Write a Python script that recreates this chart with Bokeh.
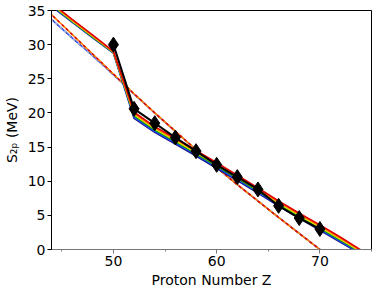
from bokeh.plotting import figure
from bokeh.models import Range1d, SingleIntervalTicker
from bokeh.embed import file_html
from bokeh.resources import INLINE

# ---- data ----
Z_model = [44, 46, 48, 50, 52, 54, 56, 58, 60, 62, 64, 66, 68, 70, 72, 74]
S_red    = [36.1, 33.7, 31.4, 29.00, 20.10, 18.00, 16.30, 14.50, 12.70, 10.90, 9.00, 7.10, 5.30, 3.60, 1.80, -0.10]
S_orange = [36.0, 33.6, 31.3, 28.95, 19.92, 17.83, 16.13, 14.34, 12.54, 10.74, 8.85, 6.95, 5.15, 3.44, 1.65, -0.22]
S_yellow = [35.9, 33.5, 31.2, 28.90, 19.74, 17.66, 15.96, 14.18, 12.38, 10.58, 8.70, 6.80, 5.00, 3.28, 1.50, -0.34]
S_green  = [35.8, 33.4, 31.1, 28.85, 19.56, 17.49, 15.79, 14.02, 12.22, 10.42, 8.55, 6.65, 4.85, 3.12, 1.35, -0.46]
S_blue   = [35.7, 33.35, 31.05, 28.80, 19.38, 17.32, 15.62, 13.86, 12.06, 10.26, 8.40, 6.50, 4.70, 2.96, 1.20, -0.58]
S_navy   = [35.6, 33.3, 31.0, 28.75, 19.20, 17.15, 15.45, 13.70, 11.90, 10.10, 8.25, 6.35, 4.55, 2.80, 1.05, -0.70]

Z_dash = [44, 46, 48, 50, 52, 54, 56, 58, 60, 62, 64, 66, 68, 70]
D_upper = [34.4, 31.5, 28.6, 25.7, 22.8, 20.0, 17.3, 14.6, 12.0, 9.5, 7.1, 4.7, 2.35, 0.0]
D_lower = [33.7, 31.0, 28.35, 25.6, 22.75, 20.0, 17.3, 14.6, 12.0, 9.5, 7.1, 4.7, 2.35, 0.0]

Z_exp = [50, 52, 54, 56, 58, 60, 62, 64, 66, 68, 70]
S_exp = [30.0, 20.6, 18.5, 16.4, 14.4, 12.4, 10.6, 8.8, 6.4, 4.6, 3.0]

y_ticks = [0, 5, 10, 15, 20, 25, 30, 35]

FONT = "DejaVu Sans"

p = figure(width=373, height=293, output_backend="svg", toolbar_location=None,
           x_range=Range1d(44, 75), y_range=Range1d(0, 35),
           min_border_left=50, min_border_right=2, min_border_top=10, min_border_bottom=44)
p.xgrid.visible = False
p.ygrid.visible = False
p.outline_line_color = "black"
p.outline_line_width = 1
p.background_fill_color = "white"
p.border_fill_color = "white"

# dashed models
dash_specs = [(D_lower, "#1a1a8c", 0), (D_lower, "#2f4fff", 3), (D_lower, "#a0b4e0", 1),
              (D_upper, "#ffd000", 3), (D_upper, "#ff8000", 1), (D_upper, "#e00000", 4)]
for ys, c, off in dash_specs:
    p.line(Z_dash, ys, line_color=c, line_width=1.6, line_dash="3 3", line_dash_offset=off)

# solid models
solid_specs = [(S_navy, "#1a1a8c"), (S_blue, "#1f3fff"), (S_green, "#00a000"),
               (S_yellow, "#e6e600"), (S_orange, "#ff8000"), (S_red, "#e00000")]
for ys, c in solid_specs:
    p.line(Z_model, ys, line_color=c, line_width=1.6)

# experiment
p.line(Z_exp, S_exp, line_color="black", line_width=2)
p.scatter(Z_exp, S_exp, marker="diamond", size=15, fill_color="black", line_color="black")

# axes
p.xaxis.ticker = SingleIntervalTicker(interval=10, num_minor_ticks=2)
p.yaxis.ticker = y_ticks
for ax in (p.xaxis, p.yaxis):
    ax.major_label_text_font = FONT
    ax.major_label_text_font_size = "14px"
    ax.major_label_text_color = "black"
    ax.axis_label_text_font = FONT
    ax.axis_label_text_font_size = "14px"
    ax.axis_label_text_font_style = "normal"
    ax.axis_label_text_color = "black"
    ax.major_tick_in = 0
    ax.major_tick_out = 4
    ax.minor_tick_in = 0
    ax.major_label_standoff = 2
p.xaxis.axis_label_standoff = 3
p.yaxis.axis_label_standoff = 5
p.xaxis.minor_tick_out = 2
p.yaxis.minor_tick_line_color = None
p.xaxis.axis_line_color = "#777777"
p.xaxis.major_tick_line_color = "#777777"
p.xaxis.minor_tick_line_color = "#777777"
p.yaxis.axis_line_color = "black"
p.xaxis.axis_label = "Proton Number Z"
p.yaxis.axis_label = "S₂ₚ (MeV)"

open("out.html", "w").write(file_html(p, INLINE))
